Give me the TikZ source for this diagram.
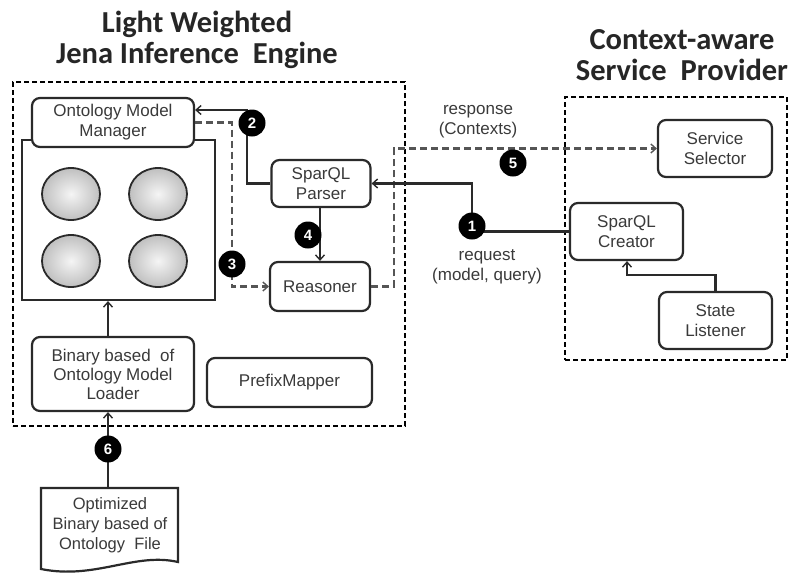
\documentclass[tikz,border=0pt]{standalone}
\usepackage{fontspec}
\setmainfont{Liberation Sans}
\newfontfamily\titlefont{Carlito}
\usetikzlibrary{arrows.meta,shapes.geometric,calc}
\definecolor{ln}{HTML}{2A2A2A}
\definecolor{txt}{HTML}{3A3A3A}
\tikzset{
  box/.style={draw=ln,line width=2.2pt,rounded corners=8pt,fill=white,align=center,
    inner sep=0pt,font=\fontsize{17}{20}\selectfont,text=txt},
  frame/.style={draw=black,line width=2pt,dash pattern=on 5pt off 3pt},
  conn/.style={draw=ln,line width=2.2pt},
  dconn/.style={draw=ln!80,line width=2.2pt,dash pattern=on 7pt off 4pt},
  arr/.style={-{Straight Barb[length=5pt,width=9pt,line width=1.4pt]}},
  badge/.style={circle,fill=black,minimum size=27pt,inner sep=0pt,text=white,
    font=\bfseries\fontsize{15}{15}\selectfont},
  ball/.style={ellipse,draw=ln,line width=1.8pt,minimum width=58pt,minimum height=52pt,
    inner color=gray!8,outer color=gray!50},
  title/.style={align=center,font=\titlefont\bfseries\fontsize{30.5}{31}\selectfont,text=black!85},
  lbl/.style={align=center,font=\fontsize{17}{20}\selectfont,text=txt}
}
\begin{document}
\begin{tikzpicture}[x=1pt,y=-1pt]
\useasboundingbox (0,0) rectangle (792,573);
% titles
\node[title] (t1) at (197,40) {Light Weighted\\Jena Inference\ \ Engine};
\node[title] (t2) at (682,55) {Context-aware\\Service\ \ Provider};
% frames
\node[frame,minimum width=392pt,minimum height=344pt,inner sep=0pt] (lframe) at (209,254) {};
\node[frame,minimum width=222pt,minimum height=263pt,inner sep=0pt] (rframe) at (676,228.5) {};
% container
\node[draw=ln,line width=2.2pt,minimum width=193pt,minimum height=160pt,inner sep=0pt] (cont) at (118.5,220) {};
\node[ball] (b1) at (71,194) {};
\node[ball] (b2) at (158,194) {};
\node[ball] (b3) at (71,261) {};
\node[ball] (b4) at (158,261) {};
% boxes
\node[box,minimum width=162pt,minimum height=49pt] (omm) at (113,122.5) {Ontology Model\\Manager};
\node[box,minimum width=99pt,minimum height=47pt] (parser) at (321,183.5) {SparQL\\Parser};
\node[box,minimum width=100pt,minimum height=49pt] (reas) at (320,286.5) {Reasoner};
\node[box,minimum width=162pt,minimum height=74pt,font=\fontsize{17}{19}\selectfont] (loader) at (113,374) {Binary based\ \ of\\Ontology Model\\Loader};
\node[box,minimum width=165pt,minimum height=49pt] (prefix) at (289.5,382.5) {PrefixMapper};
\node[box,minimum width=114pt,minimum height=57pt] (sel) at (715,148.5) {Service\\Selector};
\node[box,minimum width=113pt,minimum height=57pt] (creator) at (626.5,231.5) {SparQL\\Creator};
\node[box,minimum width=113pt,minimum height=57pt] (listener) at (715.5,320.5) {State\\Listener};
% document
\draw[line width=2.2pt,draw=ln,fill=white] (41,488) -- (178,488) -- (178,562)
  .. controls (135,552) and (95,580) .. (41,569) -- cycle;
\node[lbl,font=\fontsize{16.5}{20}\selectfont] (doc) at (110,525) {Optimized\\Binary based of\\Ontology\ \ File};
\coordinate (doctop) at (108,488);
% connectors
\coordinate (c2) at (247,110);
\draw[conn,arr] (parser.west) -| (c2) -- (omm.east |- c2);
\coordinate (c3) at (232,286.5);
\draw[dconn,arr] (omm.east) -| (c3) -- (reas.west);
\draw[conn,arr] (parser.south -| 320,0) -- (reas.north -| 320,0);
\coordinate (c5) at (394,148.5);
\draw[dconn,arr] (reas.east) -| (c5) -- (sel.west);
\coordinate (c1) at (472,183.5);
\draw[conn,arr] (creator.west) -| (c1) -- (parser.east);
\coordinate (c6) at (627,275);
\draw[conn,arr] (listener.north) |- (c6) -- (creator.south -| c6);
\coordinate (c7) at (108,0);
\draw[conn,arr] (loader.north -| c7) -- (cont.south -| c7);
\draw[conn,arr] (doctop) -- (loader.south -| c7);
% labels
\node[lbl] (resp) at (478,122) {response\\(Contexts)};
\node[lbl] (req) at (487,267) {request\\(model, query)};
% badges
\node[badge] (n1) at (472,226) {1};
\node[badge] (n2) at (252,123) {2};
\node[badge] (n3) at (232,264) {3};
\node[badge] (n4) at (308,235) {4};
\node[badge] (n5) at (513,163) {5};
\node[badge] (n6) at (108,449) {6};
\end{tikzpicture}
\end{document}
